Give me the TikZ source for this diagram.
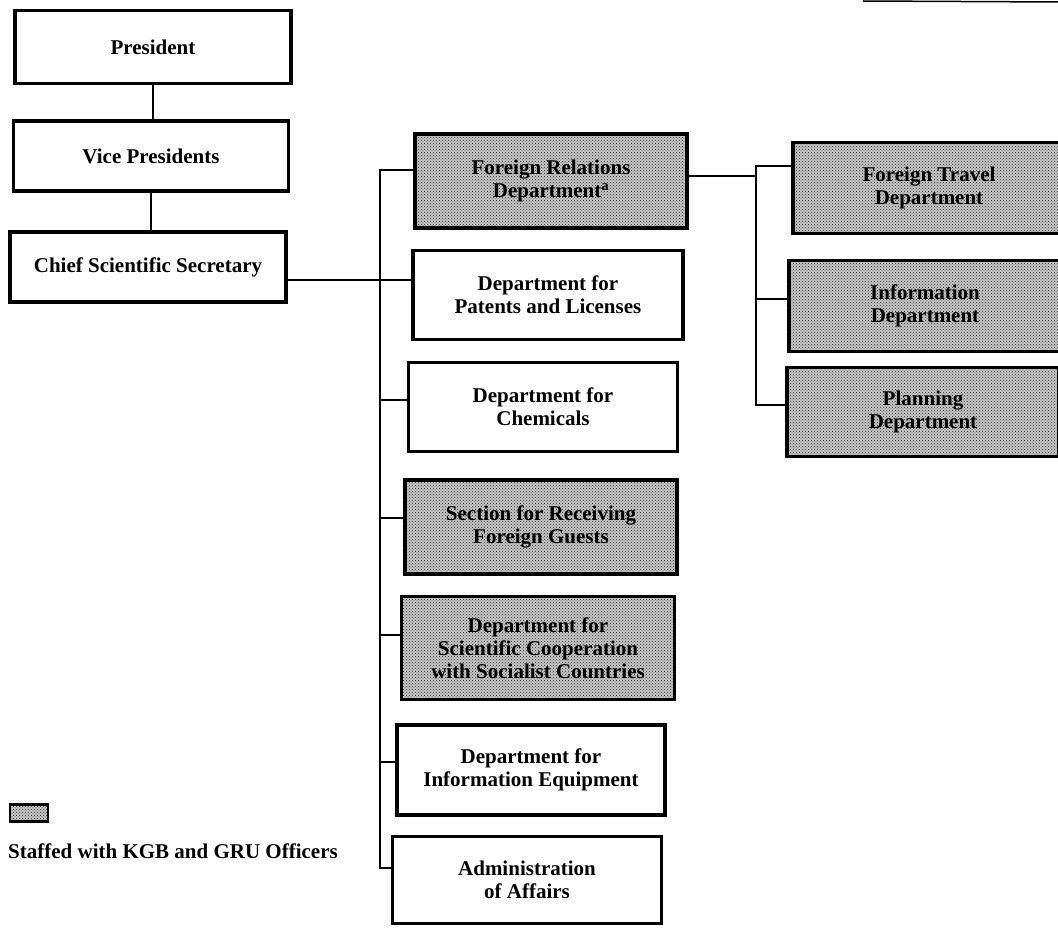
\documentclass[tikz,border=0pt]{standalone}
\usepackage{fontspec}
\setmainfont{Liberation Serif}
\usetikzlibrary{patterns}
\begin{document}
\begin{tikzpicture}[x=1pt,y=-1pt,
  box/.style={draw, line width=3.2pt, align=center, inner sep=0pt,
    font=\fontsize{21}{23}\selectfont\bfseries},
  shaded/.style={box, preaction={fill=black!22}, pattern=crosshatch dots, pattern color=black!85},
  conn/.style={line width=2.2pt}]
\useasboundingbox (0,0) rectangle (1058,928);
\clip (0,0) rectangle (1058,928);
% left column
\node[box, minimum width=276pt, minimum height=73pt] (pres) at (153,47) {President};
\node[box, minimum width=275pt, minimum height=70pt] (vp) at (151,156) {Vice Presidents};
\node[box, minimum width=276pt, minimum height=70pt] (css) at (148,267) {Chief Scientific Secretary};
% middle column
\node[shaded, minimum width=272pt, minimum height=94pt] (fr) at (551,181) {Foreign Relations\\Department\textsuperscript{a}};
\node[box, minimum width=270pt, minimum height=89pt] (pat) at (548,295) {Department for\\Patents and Licenses};
\node[box, minimum width=269pt, minimum height=89pt] (chem) at (543,407) {Department for\\Chemicals};
\node[shaded, minimum width=272pt, minimum height=94pt] (sec) at (541,527) {Section for Receiving\\Foreign Guests};
\node[shaded, minimum width=273pt, minimum height=103pt] (sci) at (538,648) {Department for\\Scientific Cooperation\\with Socialist Countries};
\node[box, minimum width=268pt, minimum height=90pt] (ieq) at (531,770) {Department for\\Information Equipment};
\node[box, minimum width=269pt, minimum height=87pt] (adm) at (527,880) {Administration\\of Affairs};
% right column
\node[shaded, minimum width=272pt, minimum height=91pt] (ft) at (929,188) {Foreign Travel\\Department};
\node[shaded, minimum width=272pt, minimum height=91pt] (inf) at (925,306) {Information\\Department};
\node[shaded, minimum width=272pt, minimum height=89pt] (pln) at (923,412) {Planning\\Department};
% legend
\node[draw, line width=2.4pt, preaction={fill=black!22}, pattern=crosshatch dots, pattern color=black!85, minimum width=38pt, minimum height=17pt, inner sep=0pt] (leg) at (29,813) {};
\node[font=\fontsize{21}{23}\selectfont\bfseries, anchor=base west, inner sep=0pt] (legtext) at (8,858) {Staffed with KGB and GRU Officers};
% connectors left
\draw[conn] (pres.south) -- (pres.south |- vp.north);
\draw[conn] (vp.south) -- (vp.south |- css.north);
% middle bus
\coordinate (bFR) at (380,170);
\coordinate (bPat) at (380,280);
\coordinate (bChem) at (380,400);
\coordinate (bSec) at (380,518);
\coordinate (bSci) at (380,635);
\coordinate (bIeq) at (380,762);
\coordinate (bAdm) at (380,868);
\draw[conn] (bFR -| fr.west) -- (bFR) -- (bAdm) -- (bAdm -| adm.west);
\draw[conn] (css.east |- bPat) -- (bPat -| pat.west);
\draw[conn] (bChem) -- (bChem -| chem.west);
\draw[conn] (bSec) -- (bSec -| sec.west);
\draw[conn] (bSci) -- (bSci -| sci.west);
\draw[conn] (bIeq) -- (bIeq -| ieq.west);
% right bus
\coordinate (rFR) at (756,176);
\coordinate (rFT) at (756,166);
\coordinate (rInf) at (756,299);
\coordinate (rPln) at (756,405);
\draw[conn] (rFR -| fr.east) -- (rFR);
\draw[conn] (rFT -| ft.west) -- (rFT) -- (rPln) -- (rPln -| pln.west);
\draw[conn] (rInf) -- (rInf -| inf.west);
% fragment at top edge
\draw[line width=1.5pt] (863,1) -- (1058,2);
\end{tikzpicture}
\end{document}
